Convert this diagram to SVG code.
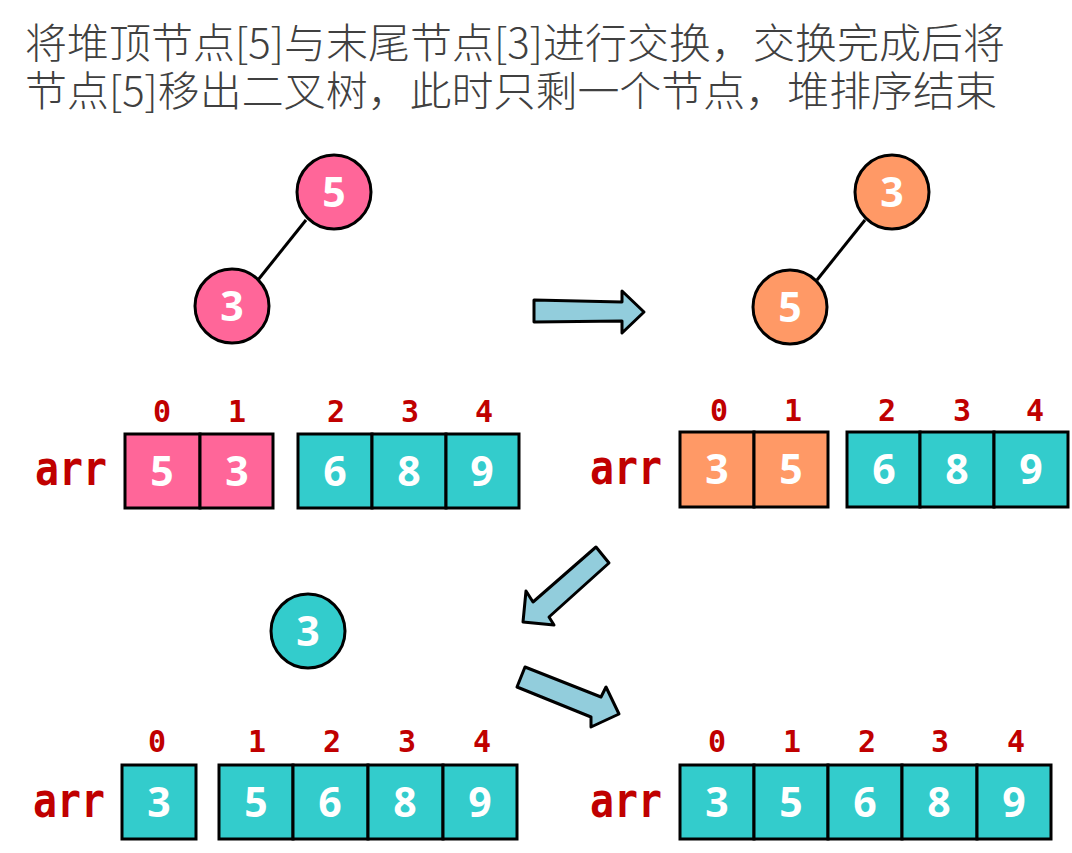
<svg xmlns="http://www.w3.org/2000/svg" width="1072" height="853" viewBox="0 0 1072 853">
<style>
.title{font-family:"Noto Sans CJK SC","Noto Sans",sans-serif;font-size:41px;font-weight:300;fill:#404040}
.node circle{stroke:#000;stroke-width:3}
.pink{fill:#FF6699}
.orange{fill:#FF9966}
.teal{fill:#33CCCC}
.num{font-family:"Open Sans","Noto Sans",sans-serif;font-weight:bold;font-size:41px;fill:#fff;text-anchor:middle}
.idx{font-family:"DejaVu Sans Mono","Liberation Mono",monospace;font-weight:bold;font-size:30px;fill:#C00000;text-anchor:middle}
.arr{font-family:"DejaVu Sans Mono","Liberation Mono",monospace;font-weight:bold;font-size:48px;fill:#C00000}
.cell{stroke:#000;stroke-width:3}
.edge{stroke:#000;stroke-width:3}
.bigarrow{fill:#92CDDC;stroke:#000;stroke-width:3;stroke-linejoin:round}
</style>
<rect width="1072" height="853" fill="#fff"/>
<g id="title">
<text class="title" x="25" y="58" textLength="980" lengthAdjust="spacingAndGlyphs">将堆顶节点[5]与末尾节点[3]进行交换，交换完成后将</text>
<text class="title" x="25" y="106" textLength="972" lengthAdjust="spacingAndGlyphs">节点[5]移出二叉树，此时只剩一个节点，堆排序结束</text>
</g>
<g id="connectors">
<line class="edge" x1="306" y1="220" x2="258" y2="280"/>
<line class="edge" x1="865" y1="220" x2="817" y2="280"/>
<polygon class="bigarrow" points="534,300 622,302 622,291 644,312 622,333 622,321 534,322"/>
<polygon class="bigarrow" points="523,622 526,591 533,602 596,547 609,563 549,617 554,625"/>
<polygon class="bigarrow" points="525,667 517,687 591,717 591,727 619,714 606,687 601,697"/>
</g>
<g id="tree1-node5" class="node"><circle class="pink" cx="334" cy="192" r="37"/><text class="num" x="334" y="207">5</text></g>
<g id="tree1-node3" class="node"><circle class="pink" cx="232" cy="306" r="37"/><text class="num" x="232" y="321">3</text></g>
<g id="tree2-node3" class="node"><circle class="orange" cx="892" cy="192" r="37"/><text class="num" x="892" y="207">3</text></g>
<g id="tree2-node5" class="node"><circle class="orange" cx="790" cy="307" r="37"/><text class="num" x="790" y="322">5</text></g>
<g id="tree3-node3" class="node"><circle class="teal" cx="308" cy="631" r="37"/><text class="num" x="308" y="646">3</text></g>

<g id="array1">
<text class="arr" x="35" y="485" textLength="72" lengthAdjust="spacingAndGlyphs">arr</text>
<text class="idx" x="162" y="422">0</text><text class="idx" x="237" y="422">1</text><text class="idx" x="336" y="422">2</text><text class="idx" x="410" y="422">3</text><text class="idx" x="484" y="422">4</text>
<rect class="cell pink" x="125" y="434" width="75" height="74"/><rect class="cell pink" x="200" y="434" width="73" height="74"/>
<rect class="cell teal" x="298" y="434" width="74" height="74"/><rect class="cell teal" x="372" y="434" width="74" height="74"/><rect class="cell teal" x="446" y="434" width="73" height="74"/>
<text class="num" x="162" y="486">5</text><text class="num" x="237" y="486">3</text><text class="num" x="335" y="486">6</text><text class="num" x="409" y="486">8</text><text class="num" x="482" y="486">9</text>
</g>

<g id="array2">
<text class="arr" x="590" y="484" textLength="72" lengthAdjust="spacingAndGlyphs">arr</text>
<text class="idx" x="719" y="421">0</text><text class="idx" x="793" y="421">1</text><text class="idx" x="887" y="421">2</text><text class="idx" x="962" y="421">3</text><text class="idx" x="1035" y="421">4</text>
<rect class="cell orange" x="680" y="432" width="74" height="75"/><rect class="cell orange" x="754" y="432" width="74" height="75"/>
<rect class="cell teal" x="847" y="432" width="73" height="75"/><rect class="cell teal" x="920" y="432" width="74" height="75"/><rect class="cell teal" x="994" y="432" width="74" height="75"/>
<text class="num" x="717" y="484">3</text><text class="num" x="791" y="484">5</text><text class="num" x="884" y="484">6</text><text class="num" x="957" y="484">8</text><text class="num" x="1031" y="484">9</text>
</g>

<g id="array3">
<text class="arr" x="33" y="817" textLength="72" lengthAdjust="spacingAndGlyphs">arr</text>
<text class="idx" x="157" y="752">0</text><text class="idx" x="257" y="752">1</text><text class="idx" x="332" y="752">2</text><text class="idx" x="407" y="752">3</text><text class="idx" x="482" y="752">4</text>
<rect class="cell teal" x="122" y="765" width="74" height="74"/>
<rect class="cell teal" x="219" y="765" width="74" height="74"/><rect class="cell teal" x="293" y="765" width="75" height="74"/><rect class="cell teal" x="368" y="765" width="75" height="74"/><rect class="cell teal" x="443" y="765" width="74" height="74"/>
<text class="num" x="159" y="817">3</text><text class="num" x="256" y="817">5</text><text class="num" x="330" y="817">6</text><text class="num" x="405" y="817">8</text><text class="num" x="480" y="817">9</text>
</g>

<g id="array4">
<text class="arr" x="590" y="817" textLength="72" lengthAdjust="spacingAndGlyphs">arr</text>
<text class="idx" x="717" y="752">0</text><text class="idx" x="792" y="752">1</text><text class="idx" x="867" y="752">2</text><text class="idx" x="940" y="752">3</text><text class="idx" x="1016" y="752">4</text>
<rect class="cell teal" x="680" y="765" width="74" height="74"/><rect class="cell teal" x="754" y="765" width="74" height="74"/><rect class="cell teal" x="828" y="765" width="74" height="74"/><rect class="cell teal" x="902" y="765" width="75" height="74"/><rect class="cell teal" x="977" y="765" width="74" height="74"/>
<text class="num" x="717" y="817">3</text><text class="num" x="791" y="817">5</text><text class="num" x="865" y="817">6</text><text class="num" x="939" y="817">8</text><text class="num" x="1014" y="817">9</text>
</g>
</svg>
